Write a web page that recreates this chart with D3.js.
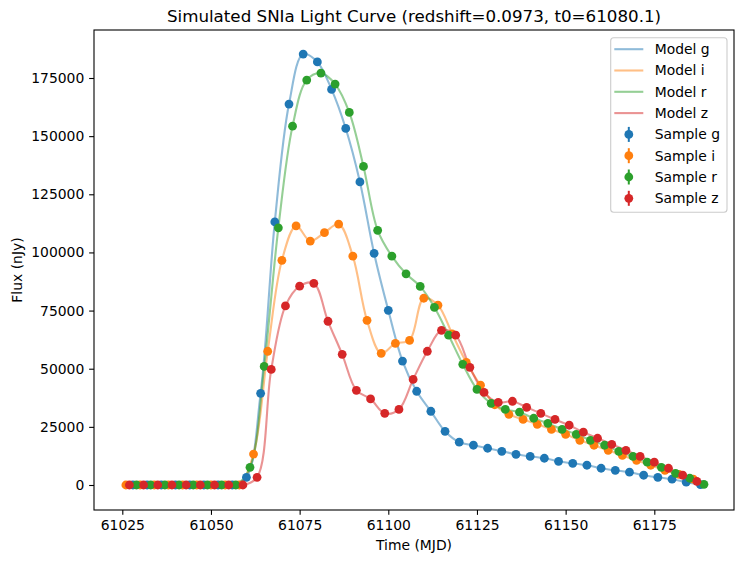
<!DOCTYPE html>
<html>
<head>
<meta charset="utf-8">
<script src="https://cdn.jsdelivr.net/npm/d3@7"></script>
<style>
  body { margin: 0; background: #fff; }
  text { font-family: "DejaVu Sans", sans-serif; }
</style>
</head>
<body>
<div id="chart"></div>
<script>
// light curve samples, one array of times and fluxes per band (nJy)
var timeG = [61028, 61032, 61036, 61040, 61044, 61048, 61052, 61056, 61060, 61064, 61068, 61072, 61076, 61080, 61084, 61088, 61092, 61096, 61100, 61104, 61108, 61112, 61116, 61120, 61124, 61128, 61132, 61136, 61140, 61144, 61148, 61152, 61156, 61160, 61164, 61168, 61172, 61176, 61180, 61184, 61188];
var fluxG = [0, 0, 0, 0, 0, 0, 0, 0, 3300, 39400, 113100, 163800, 185300, 181900, 170100, 153300, 130300, 99600, 75100, 53300, 40300, 31700, 23100, 18400, 17100, 15800, 14500, 13200, 12300, 11500, 10200, 9300, 8500, 7200, 6300, 5500, 4200, 3300, 2500, 1200, 200];

var timeI = [61026, 61030, 61034, 61038, 61042, 61046, 61050, 61054, 61058, 61062, 61066, 61070, 61074, 61078, 61082, 61086, 61090, 61094, 61098, 61102, 61106, 61110, 61114, 61118, 61122, 61126, 61130, 61134, 61138, 61142, 61146, 61150, 61154, 61158, 61162, 61166, 61170, 61174, 61178, 61182, 61186];
var fluxI = [0, 0, 0, 0, 0, 0, 0, 0, 0, 13300, 57500, 96600, 111400, 104900, 108500, 112200, 98400, 70800, 56600, 60900, 62200, 80300, 77300, 65000, 52700, 42900, 34500, 30400, 28200, 26100, 23900, 21800, 19200, 17100, 14900, 12700, 10600, 8500, 6300, 4600, 2500];

var timeR = [61029, 61033, 61037, 61041, 61045, 61049, 61053, 61057, 61061, 61065, 61069, 61073, 61077, 61081, 61085, 61089, 61093, 61097, 61101, 61105, 61109, 61113, 61117, 61121, 61125, 61129, 61133, 61137, 61141, 61145, 61149, 61153, 61157, 61161, 61165, 61169, 61173, 61177, 61181, 61185, 61189];
var fluxR = [0, 0, 0, 0, 0, 0, 0, 0, 7600, 51000, 110600, 154300, 174100, 177100, 172400, 160200, 137000, 109500, 98400, 90800, 85400, 76400, 64400, 51900, 41100, 35100, 32500, 31300, 28700, 26500, 23900, 21800, 19200, 17100, 14500, 12300, 9800, 7600, 5000, 2900, 300];

var timeZ = [61027, 61031, 61035, 61039, 61043, 61047, 61051, 61055, 61059, 61063, 61067, 61071, 61075, 61079, 61083, 61087, 61091, 61095, 61099, 61103, 61107, 61111, 61115, 61119, 61123, 61127, 61131, 61135, 61139, 61143, 61147, 61151, 61155, 61159, 61163, 61167, 61171, 61175, 61179, 61183, 61187];
var fluxZ = [0, 0, 0, 0, 0, 0, 0, 0, 0, 3300, 49700, 77000, 85500, 86700, 70400, 56200, 40700, 37000, 30800, 32500, 45400, 57500, 66500, 64400, 50600, 39800, 35500, 36000, 33400, 30800, 28200, 25700, 22700, 20100, 17500, 14900, 12300, 9800, 7200, 4200, 1600];

var bands = ['g', 'i', 'r', 'z'];
var xTicks = [61025, 61050, 61075, 61100, 61125, 61150, 61175];
var yTicks = [0, 25000, 50000, 75000, 100000, 125000, 150000, 175000];

var w = 743;
var h = 564;
var margin = ({top: 30, right: 9, bottom: 54, left: 94});
const color = d3.scaleOrdinal(bands, ['#1f77b4', '#ff7f0e', '#2ca02c', '#d62728']);

var series = [
  {band: 'g', t: timeG, f: fluxG},
  {band: 'i', t: timeI, f: fluxI},
  {band: 'r', t: timeR, f: fluxR},
  {band: 'z', t: timeZ, f: fluxZ}
];
series.forEach(s => s.pts = s.t.map((t, i) => ({t: t, f: s.f[i]})));

var x = d3.scaleLinear()
     .domain([61017.02, 61197.47])
     .range([margin.left, w - margin.right]);

var y = d3.scaleLinear()
     .domain([-10750, 195640])
     .range([h - margin.bottom, margin.top]);

var svg = d3.select('#chart')
     .append('svg')
     .attr('width', w)
     .attr('height', h);

var plot = svg.append('g');

// model curves (drawn first, under the samples)
var line = d3.line()
     .x(d => x(d.t))
     .y(d => y(d.f))
     .curve(d3.curveCatmullRom.alpha(0.5));

plot.selectAll('path.model')
     .data(series)
     .enter()
     .append('path')
     .attr('class', 'model')
     .attr('d', d => line(d.pts))
     .attr('fill', 'none')
     .attr('stroke', d => color(d.band))
     .attr('stroke-opacity', 0.5)
     .attr('stroke-width', 2.1);

// samples
series.forEach(function(s) {
  plot.append('g')
       .selectAll('circle')
       .data(s.pts)
       .enter()
       .append('circle')
       .attr('r', 4.4)
       .attr('cx', d => x(d.t))
       .attr('cy', d => y(d.f))
       .attr('fill', color(s.band));
});

// axes
var tick = 4.86;
var xAxis = d3.axisBottom(x)
     .tickValues(xTicks)
     .tickFormat(d3.format('d'))
     .tickSize(tick)
     .tickPadding(4.86)
     .tickSizeOuter(0);

var yAxis = d3.axisLeft(y)
     .tickValues(yTicks)
     .tickFormat(d3.format('d'))
     .tickSize(tick)
     .tickPadding(4.86)
     .tickSizeOuter(0);

var gx = svg.append('g')
     .attr('transform', 'translate(0,' + (h - margin.bottom) + ')')
     .call(xAxis);
var gy = svg.append('g')
     .attr('transform', 'translate(' + margin.left + ',0)')
     .call(yAxis);

[gx, gy].forEach(function(g) {
  g.select('.domain').remove();
  g.selectAll('.tick line').attr('stroke', '#000').attr('stroke-width', 1.1);
  g.selectAll('.tick text')
       .attr('fill', '#000')
       .attr('font-family', '"DejaVu Sans", sans-serif')
       .attr('font-size', 13.9);
});

// frame
svg.append('rect')
     .attr('x', margin.left)
     .attr('y', margin.top)
     .attr('width', w - margin.left - margin.right)
     .attr('height', h - margin.top - margin.bottom)
     .attr('fill', 'none')
     .attr('stroke', '#000')
     .attr('stroke-width', 1.1);

// titles
var cx = (margin.left + w - margin.right) / 2;
svg.append('text')
     .attr('x', cx)
     .attr('y', 22)
     .attr('text-anchor', 'middle')
     .attr('font-size', 16.7)
     .text('Simulated SNIa Light Curve (redshift=0.0973, t0=61080.1)');

svg.append('text')
     .attr('x', cx)
     .attr('y', 550)
     .attr('text-anchor', 'middle')
     .attr('font-size', 13.9)
     .text('Time (MJD)');

svg.append('text')
     .attr('transform', 'translate(22,' + ((margin.top + h - margin.bottom) / 2) + ') rotate(-90)')
     .attr('text-anchor', 'middle')
     .attr('font-size', 13.9)
     .text('Flux (nJy)');

// legend
var legend = svg.append('g');
legend.append('rect')
     .attr('x', 610.7)
     .attr('y', 37.7)
     .attr('width', 116.3)
     .attr('height', 174.6)
     .attr('rx', 3)
     .attr('fill', '#fff')
     .attr('fill-opacity', 0.8)
     .attr('stroke', '#cccccc')
     .attr('stroke-width', 1.1);

var items = bands.map(b => ({kind: 'Model', band: b}))
     .concat(bands.map(b => ({kind: 'Sample', band: b})));

var row = legend.selectAll('g.item')
     .data(items)
     .enter()
     .append('g')
     .attr('class', 'item')
     .attr('transform', (d, i) => 'translate(0,' + (49.2 + i * 21.3) + ')');

row.filter(d => d.kind === 'Model')
     .append('line')
     .attr('x1', 614.3)
     .attr('x2', 643.3)
     .attr('stroke', d => color(d.band))
     .attr('stroke-opacity', 0.5)
     .attr('stroke-width', 2.1);

var smp = row.filter(d => d.kind === 'Sample');
smp.append('line')
     .attr('x1', 628.8)
     .attr('x2', 628.8)
     .attr('y1', -7.5)
     .attr('y2', 7.5)
     .attr('stroke', d => color(d.band))
     .attr('stroke-width', 2);
smp.append('circle')
     .attr('cx', 628.8)
     .attr('r', 4.4)
     .attr('fill', d => color(d.band));

row.append('text')
     .attr('x', 654.7)
     .attr('dy', '0.35em')
     .attr('font-size', 13.9)
     .text(d => d.kind + ' ' + d.band);
</script>
</body>
</html>
